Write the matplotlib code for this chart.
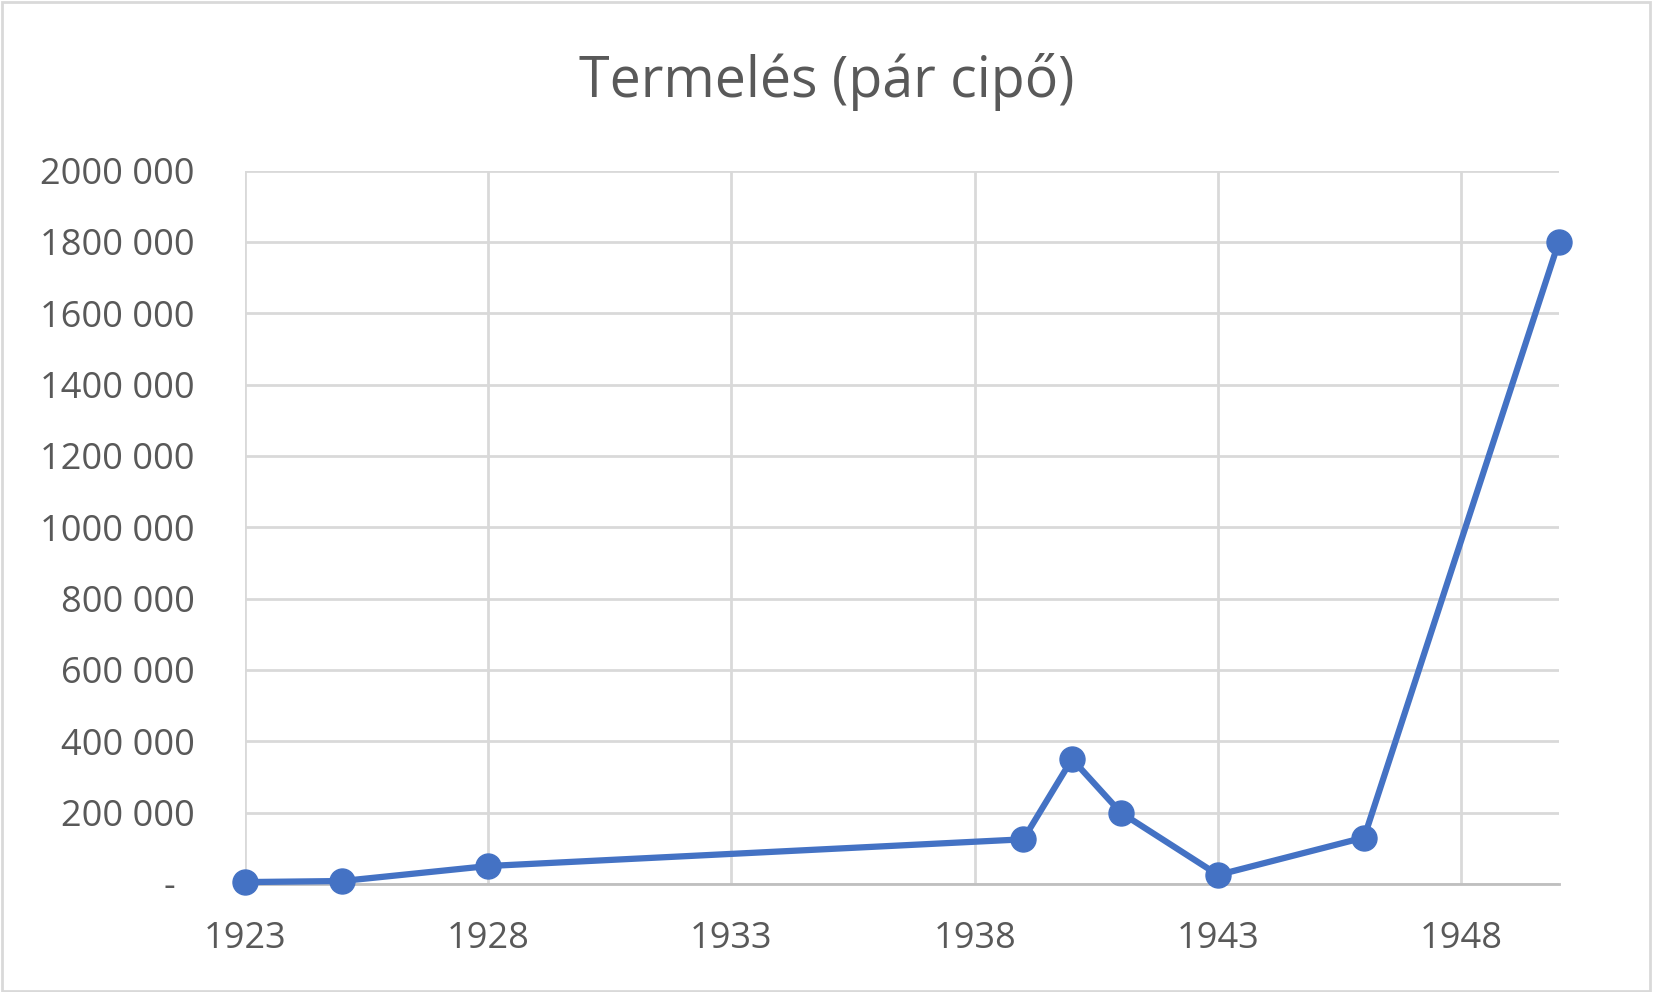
import matplotlib.pyplot as plt
from matplotlib.patches import Rectangle
from matplotlib.ticker import FuncFormatter

# data
years = [1923, 1925, 1928, 1939, 1940, 1941, 1943, 1946, 1950]
pairs = [5000, 8000, 50000, 125000, 350000, 200000, 25000, 130000, 1800000]
x_ticks = [1923, 1928, 1933, 1938, 1943, 1948]
y_ticks = [0, 200000, 400000, 600000, 800000, 1000000, 1200000,
           1400000, 1600000, 1800000, 2000000]

plt.rcParams['font.family'] = ['Open Sans', 'DejaVu Sans']
txt = '#595959'
grid = '#d9d9d9'

fig = plt.figure(figsize=(16.53, 9.92), dpi=100)
ax = fig.add_axes([0.148, 0.109, 0.795, 0.719])

ax.plot(years, pairs, color='#4472c4', lw=4.5, marker='o', ms=18,
        solid_joinstyle='round', zorder=3, clip_on=False)

ax.set_xlim(1923, 1950)
ax.set_ylim(0, 2000000)
ax.set_xticks(x_ticks)
ax.set_yticks(y_ticks)


def fmt(v, pos):
    if v == 0:
        return '-  '
    s = f'{int(v):,}'.replace(',', ' ')
    # excel style: no separator between millions and thousands
    if v >= 1000000:
        s = s.replace(' ', '', 1)
    return s


ax.yaxis.set_major_formatter(FuncFormatter(fmt))
ax.grid(True, color=grid, lw=2)
ax.set_axisbelow(True)
for s in ['top', 'right', 'left']:
    ax.spines[s].set_visible(False)
ax.spines['bottom'].set_color('#bfbfbf')
ax.spines['bottom'].set_linewidth(2)
ax.tick_params(axis='both', length=0, labelsize=26, colors=txt)
ax.tick_params(axis='y', pad=36)
ax.tick_params(axis='x', pad=27)

fig.text(0.5, 0.917, 'Termelés (pár cipő)', ha='center', va='center',
         fontsize=40, color=txt)

fig.patches.append(Rectangle((0.001, 0.001), 0.997, 0.997, transform=fig.transFigure,
                             fill=False, edgecolor=grid, lw=2))

fig.savefig('out.png', dpi=100)
